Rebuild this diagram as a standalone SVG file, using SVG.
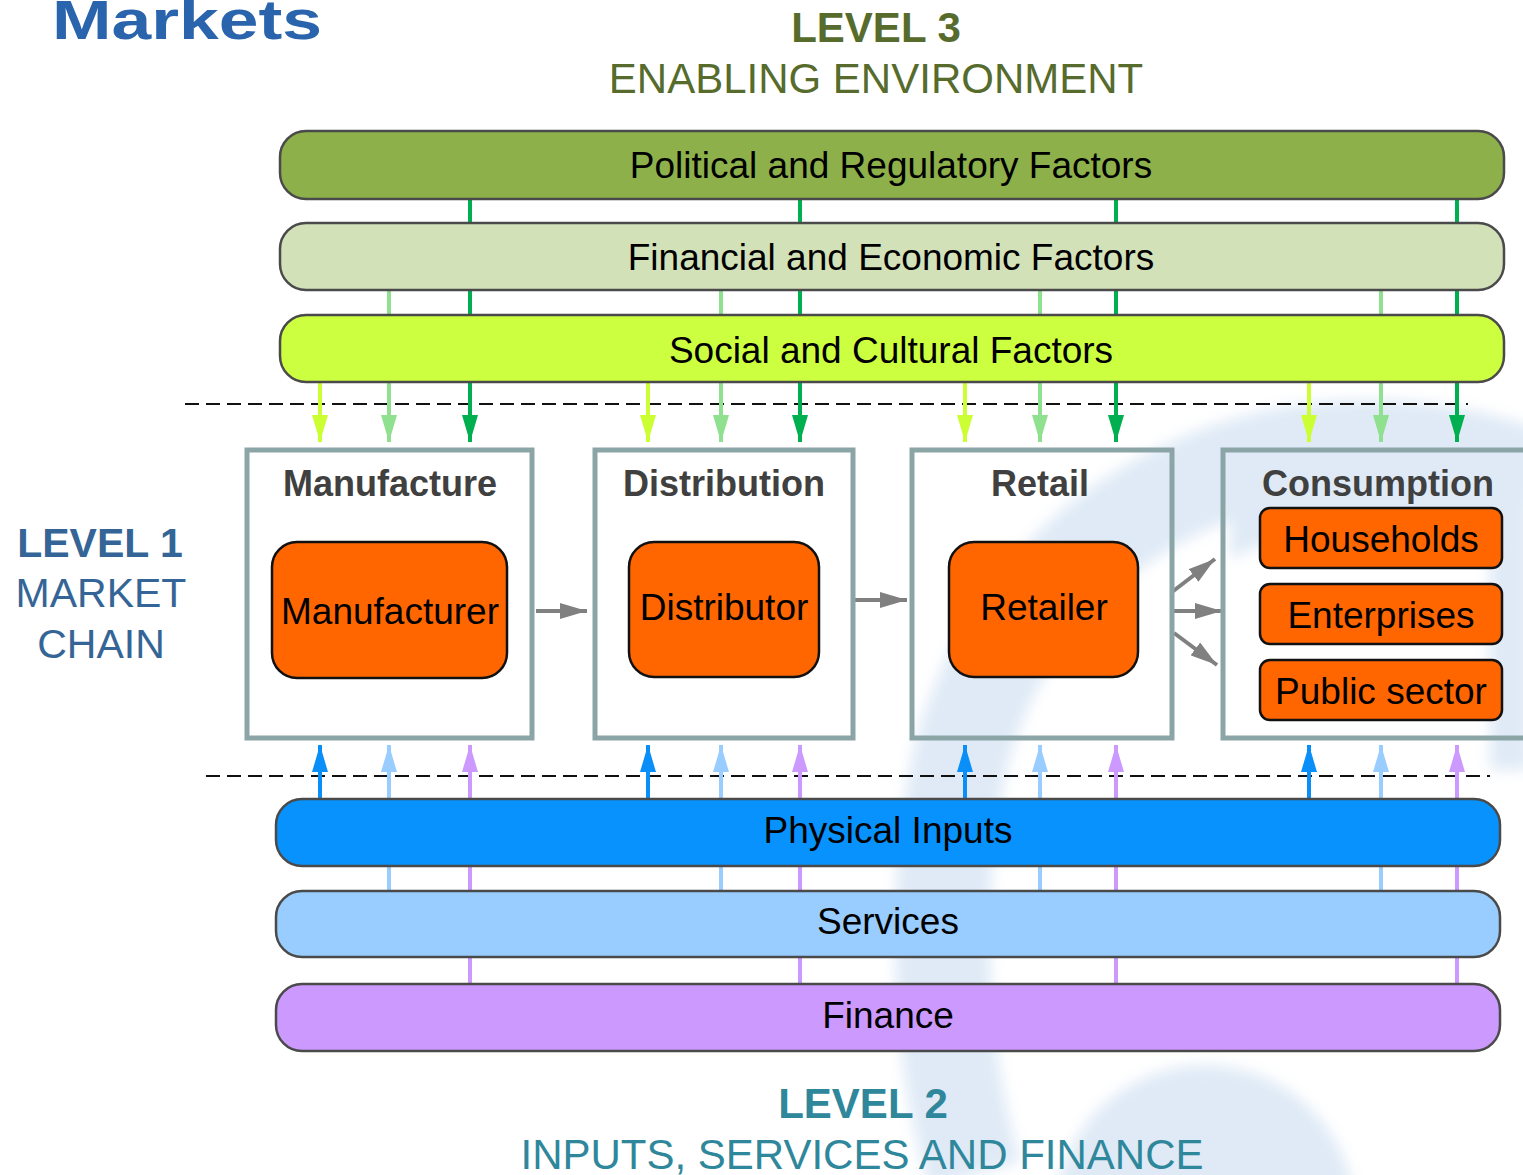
<svg xmlns="http://www.w3.org/2000/svg" width="1523" height="1175" viewBox="0 0 1523 1175">
  <defs>
    <style>
      .t { font-family: "Liberation Sans", Arial, sans-serif; }
      .bar { stroke: #4a4a4a; stroke-width: 2.5; }
      .barTxt { font-family: "Liberation Sans", Arial, sans-serif; font-size: 37px; fill: #000; text-anchor: middle; }
      .box { fill: none; stroke: #8ba4a5; stroke-width: 5; }
      .boxTitle { font-family: "Liberation Sans", Arial, sans-serif; font-size: 36px; font-weight: bold; fill: #404040; text-anchor: middle; }
      .actor { fill: #ff6600; stroke: #111; stroke-width: 2.5; }
      .actorTxt { font-family: "Liberation Sans", Arial, sans-serif; font-size: 37px; fill: #000; text-anchor: middle; }
      .dash { stroke: #111; stroke-width: 2; stroke-dasharray: 14 7; fill: none; }
      .arr { stroke-width: 4; fill: none; }
    </style>
    <filter id="soft" x="-20%" y="-20%" width="140%" height="140%"><feGaussianBlur stdDeviation="7"/></filter>
    <marker id="m-yg" viewBox="0 0 27 16" refX="27" refY="8" markerWidth="27" markerHeight="16" markerUnits="userSpaceOnUse" orient="auto"><path d="M0,0 L27,8 L0,16 z" fill="#ccff33"/></marker>
    <marker id="m-lg" viewBox="0 0 27 16" refX="27" refY="8" markerWidth="27" markerHeight="16" markerUnits="userSpaceOnUse" orient="auto"><path d="M0,0 L27,8 L0,16 z" fill="#8fe08f"/></marker>
    <marker id="m-dg" viewBox="0 0 27 16" refX="27" refY="8" markerWidth="27" markerHeight="16" markerUnits="userSpaceOnUse" orient="auto"><path d="M0,0 L27,8 L0,16 z" fill="#00b050"/></marker>
    <marker id="m-bl" viewBox="0 0 27 16" refX="27" refY="8" markerWidth="27" markerHeight="16" markerUnits="userSpaceOnUse" orient="auto"><path d="M0,0 L27,8 L0,16 z" fill="#0a8ff8"/></marker>
    <marker id="m-lb" viewBox="0 0 27 16" refX="27" refY="8" markerWidth="27" markerHeight="16" markerUnits="userSpaceOnUse" orient="auto"><path d="M0,0 L27,8 L0,16 z" fill="#99ccff"/></marker>
    <marker id="m-pu" viewBox="0 0 27 16" refX="27" refY="8" markerWidth="27" markerHeight="16" markerUnits="userSpaceOnUse" orient="auto"><path d="M0,0 L27,8 L0,16 z" fill="#cc99ff"/></marker>
    <marker id="m-gr" viewBox="0 0 27 16" refX="27" refY="8" markerWidth="27" markerHeight="16" markerUnits="userSpaceOnUse" orient="auto"><path d="M0,0 L27,8 L0,16 z" fill="#808080"/></marker>
  </defs>

  <rect x="0" y="0" width="1523" height="1175" fill="#ffffff"/>

  <!-- faint watermark -->
  <g id="watermark" opacity="0.32" filter="url(#soft)">
    <path d="M1540,480 C1280,380 1020,520 960,760 C930,900 940,1060 975,1175" fill="none" stroke="#9fc0e4" stroke-width="95"/>
    <circle cx="1205" cy="1215" r="150" fill="#9fc0e4"/>
    <rect x="1490" y="430" width="40" height="340" fill="#9fc0e4"/>
    <path d="M1230,455 L1523,455 L1523,560 C1420,520 1300,520 1230,560 Z" fill="#9fc0e4"/>
  </g>

  <!-- titles -->
  <text class="t" x="52" y="39" font-family="'Open Sans', 'Liberation Sans', sans-serif" font-size="56" font-weight="bold" fill="#2a64ad" textLength="270" lengthAdjust="spacingAndGlyphs">Markets</text>
  <text class="t" x="876" y="42" font-size="42" font-weight="bold" fill="#566b2c" text-anchor="middle">LEVEL 3</text>
  <text class="t" x="876" y="93" font-size="42" fill="#566b2c" text-anchor="middle">ENABLING ENVIRONMENT</text>
  <text class="t" x="100" y="557" font-size="41" font-weight="bold" fill="#356596" text-anchor="middle">LEVEL 1</text>
  <text class="t" x="101" y="607" font-size="41" fill="#356596" text-anchor="middle">MARKET</text>
  <text class="t" x="101" y="658" font-size="41" fill="#356596" text-anchor="middle">CHAIN</text>
  <text class="t" x="863" y="1118" font-size="42" font-weight="bold" fill="#2f879b" text-anchor="middle">LEVEL 2</text>
  <text class="t" x="862" y="1169" font-size="42" fill="#2f879b" text-anchor="middle">INPUTS, SERVICES AND FINANCE</text>

  <!-- dashed separators -->
  <line class="dash" x1="185" y1="404" x2="1468" y2="404"/>
  <line class="dash" x1="206" y1="776" x2="1490" y2="776"/>

  <!-- connectors -->
  <g id="connectors">
    <g>
      <line class="arr" stroke="#ccff33" x1="320" y1="382" x2="320" y2="442" marker-end="url(#m-yg)"/>
      <line class="arr" stroke="#8fe08f" x1="389" y1="290" x2="389" y2="442" marker-end="url(#m-lg)"/>
      <line class="arr" stroke="#00b050" x1="470" y1="199" x2="470" y2="442" marker-end="url(#m-dg)"/>
      <line class="arr" stroke="#ccff33" x1="648" y1="382" x2="648" y2="442" marker-end="url(#m-yg)"/>
      <line class="arr" stroke="#8fe08f" x1="721" y1="290" x2="721" y2="442" marker-end="url(#m-lg)"/>
      <line class="arr" stroke="#00b050" x1="800" y1="199" x2="800" y2="442" marker-end="url(#m-dg)"/>
      <line class="arr" stroke="#ccff33" x1="965" y1="382" x2="965" y2="442" marker-end="url(#m-yg)"/>
      <line class="arr" stroke="#8fe08f" x1="1040" y1="290" x2="1040" y2="442" marker-end="url(#m-lg)"/>
      <line class="arr" stroke="#00b050" x1="1116" y1="199" x2="1116" y2="442" marker-end="url(#m-dg)"/>
      <line class="arr" stroke="#ccff33" x1="1309" y1="382" x2="1309" y2="442" marker-end="url(#m-yg)"/>
      <line class="arr" stroke="#8fe08f" x1="1381" y1="290" x2="1381" y2="442" marker-end="url(#m-lg)"/>
      <line class="arr" stroke="#00b050" x1="1457" y1="199" x2="1457" y2="442" marker-end="url(#m-dg)"/>
    </g>
    <g>
      <line class="arr" stroke="#0a8ff8" x1="320" y1="799" x2="320" y2="745" marker-end="url(#m-bl)"/>
      <line class="arr" stroke="#99ccff" x1="389" y1="891" x2="389" y2="745" marker-end="url(#m-lb)"/>
      <line class="arr" stroke="#cc99ff" x1="470" y1="984" x2="470" y2="745" marker-end="url(#m-pu)"/>
      <line class="arr" stroke="#0a8ff8" x1="648" y1="799" x2="648" y2="745" marker-end="url(#m-bl)"/>
      <line class="arr" stroke="#99ccff" x1="721" y1="891" x2="721" y2="745" marker-end="url(#m-lb)"/>
      <line class="arr" stroke="#cc99ff" x1="800" y1="984" x2="800" y2="745" marker-end="url(#m-pu)"/>
      <line class="arr" stroke="#0a8ff8" x1="965" y1="799" x2="965" y2="745" marker-end="url(#m-bl)"/>
      <line class="arr" stroke="#99ccff" x1="1040" y1="891" x2="1040" y2="745" marker-end="url(#m-lb)"/>
      <line class="arr" stroke="#cc99ff" x1="1116" y1="984" x2="1116" y2="745" marker-end="url(#m-pu)"/>
      <line class="arr" stroke="#0a8ff8" x1="1309" y1="799" x2="1309" y2="745" marker-end="url(#m-bl)"/>
      <line class="arr" stroke="#99ccff" x1="1381" y1="891" x2="1381" y2="745" marker-end="url(#m-lb)"/>
      <line class="arr" stroke="#cc99ff" x1="1457" y1="984" x2="1457" y2="745" marker-end="url(#m-pu)"/>
    </g>
    <g stroke="#808080">
      <line class="arr" x1="536" y1="611" x2="587" y2="611" marker-end="url(#m-gr)"/>
      <line class="arr" x1="855" y1="600" x2="907" y2="600" marker-end="url(#m-gr)"/>
      <line class="arr" x1="1172" y1="592" x2="1215" y2="559" marker-end="url(#m-gr)"/>
      <line class="arr" x1="1172" y1="611" x2="1222" y2="611" marker-end="url(#m-gr)"/>
      <line class="arr" x1="1174" y1="633" x2="1217" y2="665" marker-end="url(#m-gr)"/>
    </g>
  </g>

  <!-- level 3 bars -->
  <g id="political">
    <rect class="bar" x="280" y="131" width="1224" height="68" rx="26" fill="#8db04b"/>
    <text class="barTxt" x="891" y="178">Political and Regulatory Factors</text>
  </g>
  <g id="financial">
    <rect class="bar" x="280" y="223" width="1224" height="67" rx="26" fill="#d3e1b9"/>
    <text class="barTxt" x="891" y="270">Financial and Economic Factors</text>
  </g>
  <g id="social">
    <rect class="bar" x="280" y="315" width="1224" height="67" rx="26" fill="#ccff40"/>
    <text class="barTxt" x="891" y="363">Social and Cultural Factors</text>
  </g>

  <!-- level 1 boxes -->
  <g id="manufacture">
    <rect class="box" x="247" y="450" width="285" height="288"/>
    <text class="boxTitle" x="390" y="496">Manufacture</text>
    <rect class="actor" x="272" y="542" width="235" height="136" rx="25"/>
    <text class="actorTxt" x="390" y="624">Manufacturer</text>
  </g>
  <g id="distribution">
    <rect class="box" x="595" y="450" width="258" height="288"/>
    <text class="boxTitle" x="724" y="496">Distribution</text>
    <rect class="actor" x="629" y="542" width="190" height="135" rx="25"/>
    <text class="actorTxt" x="724" y="620">Distributor</text>
  </g>
  <g id="retail">
    <rect class="box" x="912" y="450" width="260" height="288"/>
    <text class="boxTitle" x="1040" y="496">Retail</text>
    <rect class="actor" x="949" y="542" width="189" height="135" rx="25"/>
    <text class="actorTxt" x="1044" y="620">Retailer</text>
  </g>
  <g id="consumption">
    <rect class="box" x="1223" y="450" width="310" height="288"/>
    <text class="boxTitle" x="1378" y="496">Consumption</text>
  </g>
  <g id="households">
    <rect class="actor" x="1260" y="508" width="242" height="60" rx="10"/>
    <text class="actorTxt" x="1381" y="552">Households</text>
  </g>
  <g id="enterprises">
    <rect class="actor" x="1260" y="584" width="242" height="60" rx="10"/>
    <text class="actorTxt" x="1381" y="628">Enterprises</text>
  </g>
  <g id="public-sector">
    <rect class="actor" x="1260" y="660" width="242" height="60" rx="10"/>
    <text class="actorTxt" x="1381" y="704">Public sector</text>
  </g>

  <!-- level 2 bars -->
  <g id="physical-inputs">
    <rect class="bar" x="276" y="799" width="1224" height="67" rx="26" fill="#0792fd"/>
    <text class="barTxt" x="888" y="843">Physical Inputs</text>
  </g>
  <g id="services">
    <rect class="bar" x="276" y="891" width="1224" height="66" rx="26" fill="#99ccff"/>
    <text class="barTxt" x="888" y="934">Services</text>
  </g>
  <g id="finance">
    <rect class="bar" x="276" y="984" width="1224" height="67" rx="26" fill="#cc99ff"/>
    <text class="barTxt" x="888" y="1028">Finance</text>
  </g>
</svg>
